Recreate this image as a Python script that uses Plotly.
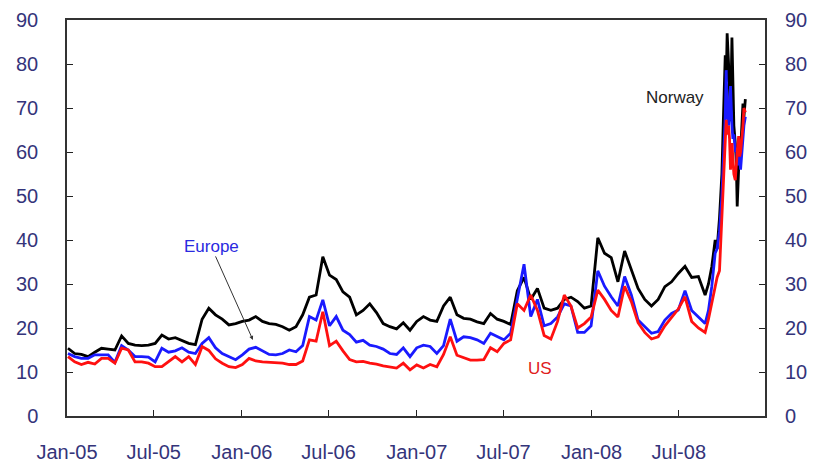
import pandas as pd
import plotly.graph_objects as go

# ---- data ----
biweekly_dates = pd.date_range("2005-01-03", periods=96, freq="14D")
late_dates = pd.to_datetime([
    "2008-09-01", "2008-09-08", "2008-09-15", "2008-09-19", "2008-09-24", "2008-09-29",
    "2008-10-02", "2008-10-06", "2008-10-08", "2008-10-10", "2008-10-13", "2008-10-15",
    "2008-10-17", "2008-10-20", "2008-10-22", "2008-10-24", "2008-10-27", "2008-10-29",
    "2008-10-31", "2008-11-03", "2008-11-05", "2008-11-07", "2008-11-10", "2008-11-12",
    "2008-11-14", "2008-11-17"])
dates = list(biweekly_dates) + list(late_dates)

norway = [
    15.4, 14.2, 14.0, 13.5, 14.5, 15.4, 15.2, 15.0, 18.2, 16.5,
    16.1, 16.0, 16.1, 16.5, 18.4, 17.5, 17.8, 17.2, 16.5, 16.2,
    22.0, 24.5, 23.0, 22.0, 20.7, 21.0, 21.5, 21.8, 22.6, 21.5,
    21.0, 20.8, 20.3, 19.5, 20.3, 23.0, 27.0, 27.5, 36.2, 32.0,
    31.0, 28.2, 27.0, 23.0, 24.0, 25.5, 23.5, 21.0, 20.3, 19.8,
    21.2, 19.5, 21.5, 22.6, 21.8, 21.5, 25.0, 27.0, 23.0, 22.2,
    22.0, 21.4, 21.0, 23.3, 22.0, 21.5, 20.8, 28.5, 31.5, 26.5,
    29.0, 24.5, 24.0, 24.5, 26.5, 27.0, 26.0, 24.5, 25.0, 40.5,
    37.0, 36.0, 30.5, 37.5, 33.0, 29.0, 26.5, 25.0, 26.5, 29.4,
    30.5, 32.4, 34.0, 31.5, 31.7, 27.5,
    30.0, 34.0, 40.0, 38.0, 45.0, 55.0, 67.0, 82.0, 76.0, 87.0,
    80.0, 72.0, 67.0, 86.0, 75.0, 66.0, 62.0, 58.0, 47.6, 56.0,
    62.0, 60.0, 66.0, 71.0, 68.0, 72.0]

europe = [
    14.2, 13.5, 13.1, 13.1, 13.9, 13.9, 13.9, 12.2, 16.0, 15.0,
    13.5, 13.5, 13.4, 12.3, 15.4, 14.5, 14.8, 15.5, 14.5, 14.2,
    16.5, 17.8, 15.5, 14.2, 13.5, 12.8, 13.9, 15.2, 15.6, 14.8,
    14.0, 13.9, 14.2, 15.0, 14.6, 16.0, 22.6, 21.8, 26.4, 20.5,
    22.6, 19.5, 18.5, 16.8, 17.2, 16.1, 15.8, 15.2, 14.2, 14.0,
    15.5, 13.5, 15.5, 16.1, 15.8, 14.2, 16.0, 22.0, 17.0, 18.0,
    17.8, 17.3, 16.5, 18.8, 18.0, 17.3, 18.8, 27.0, 34.5, 22.6,
    26.5, 20.5, 21.0, 22.5, 25.5, 25.0, 19.0, 19.0, 20.5, 33.0,
    29.5, 27.1, 25.0, 31.7, 27.5, 21.8, 20.3, 18.8, 19.2, 21.8,
    23.3, 24.1, 28.5, 24.0, 22.5, 21.0,
    24.0, 29.5, 37.0, 38.0, 42.0, 50.0, 58.0, 68.0, 78.6, 70.0,
    66.0, 72.0, 75.0, 66.0, 63.0, 64.0, 60.0, 61.0, 58.0, 57.0,
    59.0, 56.0, 60.0, 64.0, 66.0, 68.0]

us = [
    13.5, 12.3, 11.7, 12.2, 11.8, 13.1, 13.1, 12.0, 15.4, 15.0,
    12.3, 12.3, 12.0, 11.2, 11.2, 12.3, 13.5, 12.3, 13.5, 11.7,
    15.8, 14.9, 13.0, 12.0, 11.2, 11.0, 11.7, 13.1, 12.5, 12.3,
    12.2, 12.0, 12.0, 11.7, 11.7, 12.5, 17.3, 17.0, 23.7, 16.0,
    17.0, 14.8, 12.8, 12.3, 12.4, 12.0, 11.8, 11.4, 11.2, 10.9,
    12.0, 10.5, 11.6, 10.9, 11.7, 11.2, 14.0, 18.0, 13.8, 13.3,
    12.7, 12.7, 12.8, 15.5, 14.6, 16.5, 17.3, 25.5, 24.0, 27.5,
    24.0, 18.3, 17.5, 21.5, 27.5, 25.0, 20.0, 21.0, 22.5, 28.6,
    26.5, 24.0, 22.5, 29.5, 26.0, 21.2, 19.0, 17.5, 18.0, 20.5,
    22.5, 24.3, 27.1, 21.5, 20.0, 19.0,
    22.0, 26.0, 30.0, 31.5, 33.0, 45.0, 54.0, 62.0, 67.3, 64.0,
    66.0, 63.0, 56.0, 62.0, 58.0, 55.0, 53.6, 58.0, 60.0, 63.6,
    59.0, 60.0, 63.0, 66.0, 70.0, 69.0]

x_tick_vals = ["2005-01-01", "2005-07-01", "2006-01-01", "2006-07-01",
               "2007-01-01", "2007-07-01", "2008-01-01", "2008-07-01"]
x_tick_text = ["Jan-05", "Jul-05", "Jan-06", "Jul-06",
               "Jan-07", "Jul-07", "Jan-08", "Jul-08"]
y_ticks = [0, 10, 20, 30, 40, 50, 60, 70, 80, 90]

LABEL_COLOR = "#34347a"
FONT = "Liberation Sans, Arial, sans-serif"

fig = go.Figure()
fig.add_trace(go.Scatter(x=dates, y=norway, mode="lines", name="Norway",
                         line=dict(color="#000000", width=2.8)))
fig.add_trace(go.Scatter(x=dates, y=europe, mode="lines", name="Europe",
                         line=dict(color="#1a1aff", width=2.8)))
fig.add_trace(go.Scatter(x=dates, y=us, mode="lines", name="US", yaxis="y2",
                         line=dict(color="#ff1010", width=2.8)))

# the page body adds an 8px offset, so the figure is 807x460
fig.update_layout(
    width=807, height=460,
    margin=dict(l=59, r=50, t=12, b=52, autoexpand=False),
    paper_bgcolor="white", plot_bgcolor="white",
    showlegend=False,
    font=dict(family=FONT, size=20, color=LABEL_COLOR),
    xaxis=dict(
        type="date", range=["2005-01-01", "2008-12-28"], automargin=False,
        tickvals=x_tick_vals, ticktext=x_tick_text,
        ticks="inside", ticklen=6, tickcolor="#222", tickwidth=1,
        showline=True, linecolor="#333", linewidth=1.5, mirror=True,
        showgrid=False, zeroline=False, ticklabelstandoff=17,
    ),
    yaxis=dict(
        range=[0, 90], tickvals=y_ticks, automargin=False,
        ticks="inside", ticklen=6, tickcolor="#222", tickwidth=1,
        showline=True, linecolor="#333", linewidth=1.5, mirror="ticks",
        showgrid=False, zeroline=False, ticklabelstandoff=23,
    ),
    yaxis2=dict(
        range=[0, 90], tickvals=y_ticks, overlaying="y", side="right",
        automargin=False,
        ticks="", showline=False, showgrid=False, zeroline=False,
        ticklabelstandoff=19,
    ),
    annotations=[
        dict(x="2005-10-30", y=38.6, text="Europe", showarrow=False,
             font=dict(family=FONT, size=17, color="#2a2ae0")),
        dict(x="2007-09-15", y=10.9, text="US", showarrow=False,
             font=dict(family=FONT, size=17, color="#e02020")),
        dict(x="2008-06-23", y=72.5, text="Norway", showarrow=False,
             font=dict(family=FONT, size=17, color="#222222")),
        dict(x="2006-01-24", y=17.3, text="", showarrow=True,
             ax=-38, ay=-85, arrowhead=2, arrowsize=0.8, arrowwidth=1,
             arrowcolor="#333333"),
    ],
)

fig.write_html("out.html")
